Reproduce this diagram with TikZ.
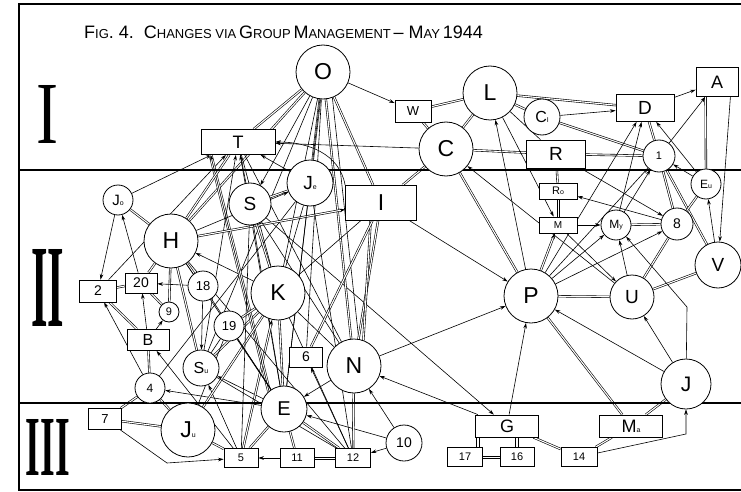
\documentclass[tikz,border=0pt]{standalone}
\usepackage{fontspec}
\setmainfont{Liberation Sans}
\newfontfamily\serifnum{Liberation Serif}
\usetikzlibrary{arrows.meta,backgrounds,calc}
\newcommand\fs[1]{\fontsize{#1}{#1}\selectfont}
\newcommand\sub[1]{{\fs{7}#1}}
\newcommand\tbig[1]{{\fs{18}#1}}
\newcommand\tsm[1]{{\fs{13}#1}}
\begin{document}
\begin{tikzpicture}[x=1pt,y=-1pt,
  cn/.style={circle,draw,line width=0.8pt,fill=white,inner sep=0pt},
  bn/.style={rectangle,draw,line width=0.8pt,fill=white,inner sep=0pt},
  dl/.style={double,double distance=1.1pt,line width=0.6pt},
  tl/.style={double,double distance=2.6pt,line width=0.55pt},
  sl/.style={line width=0.6pt},
  ar/.style={line width=0.6pt,-{Stealth[length=5.5pt,width=3.6pt]}},
  ard/.style={double,double distance=1.1pt,line width=0.6pt,-{Stealth[length=5.5pt,width=3.6pt]}},
  band/.style={line width=1.8pt}]
\useasboundingbox (0,0) rectangle (741,492);
% frame and bands
\draw[band] (741,4) -- (19,4) -- (19,490) -- (741,490);
\draw[band] (19,170) -- (741,170);
\draw[band] (19,403) -- (741,403);
% title
\node[anchor=west,inner sep=0pt] (title) at (84,32) {\tbig{F}\tsm{IG}\tbig{. 4.\ \ C}\tsm{HANGES VIA} \tbig{G}\tsm{ROUP} \tbig{M}\tsm{ANAGEMENT} \tbig{– M}\tsm{AY} \tbig{1944}};
% roman numerals
\node[inner sep=0pt] (r1) at (48,114) {\resizebox{22pt}{58pt}{\serifnum I}};
\node[inner sep=0pt] (r2) at (48,288) {\resizebox{33pt}{77pt}{\serifnum\bfseries II}};
\node[inner sep=0pt] (r3) at (48,447) {\resizebox{44pt}{56pt}{\serifnum\bfseries III}};
% ---- nodes ----
\node[cn,minimum size=54pt,font=\fs{23}] (O) at (323,72) {O};
\node[cn,minimum size=54pt,font=\fs{23}] (L) at (490,93) {L};
\node[cn,minimum size=54pt,font=\fs{23}] (C) at (446,149) {C};
\node[cn,minimum size=36pt,font=\fs{16}] (Ci) at (542,117) {C\sub{I}};
\node[bn,minimum width=36pt,minimum height=22pt,font=\fs{13}] (W) at (413,111) {W};
\node[bn,minimum width=74pt,minimum height=25pt,font=\fs{18}] (T) at (238,142) {T};
\node[bn,minimum width=59pt,minimum height=28pt,font=\fs{19}] (R) at (556,154) {R};
\node[bn,minimum width=58pt,minimum height=27pt,font=\fs{19}] (D) at (645,108) {D};
\node[bn,minimum width=42pt,minimum height=29pt,font=\fs{18}] (A) at (717,82) {A};
\node[cn,minimum size=32pt,font=\fs{11}] (n1) at (659,156) {1};
\node[cn,minimum size=30pt,font=\fs{15}] (Jo) at (118,200) {J\sub{o}};
\node[cn,minimum size=54pt,font=\fs{23}] (H) at (171,241) {H};
\node[cn,minimum size=42pt,font=\fs{19}] (S) at (250,204) {S};
\node[cn,minimum size=46pt,font=\fs{19}] (Je) at (310,183) {J\sub{e}};
\node[bn,minimum width=71pt,minimum height=35pt,font=\fs{23}] (I) at (381,203) {I};
\node[bn,minimum width=37pt,minimum height=22pt,font=\fs{14}] (n2) at (98,291) {2};
\node[bn,minimum width=32pt,minimum height=20pt,font=\fs{14}] (n20) at (141,283) {20};
\node[cn,minimum size=30pt,font=\fs{13}] (n18) at (203,286) {18};
\node[cn,minimum size=20pt,font=\fs{11}] (n9) at (169,312) {9};
\node[bn,minimum width=42pt,minimum height=21pt,font=\fs{16}] (B) at (148,340) {B};
\node[cn,minimum size=30pt,font=\fs{13}] (n19) at (229,326) {19};
\node[cn,minimum size=54pt,font=\fs{23}] (K) at (278,293) {K};
\node[cn,minimum size=36pt,font=\fs{16}] (Su) at (201,368) {S\sub{u}};
\node[bn,minimum width=33pt,minimum height=20pt,font=\fs{14}] (n6) at (306,357) {6};
\node[cn,minimum size=54pt,font=\fs{23}] (N) at (354,366) {N};
\node[cn,minimum size=30pt,font=\fs{12}] (n4) at (150,388) {4};
\node[cn,minimum size=54pt,font=\fs{23}] (P) at (531,296) {P};
\node[cn,minimum size=44pt,font=\fs{19}] (U) at (632,297) {U};
\node[bn,minimum width=38pt,minimum height=16pt,font=\fs{11}] (Ro) at (558,191) {R\sub{o}};
\node[bn,minimum width=38pt,minimum height=16pt,font=\fs{10}] (M) at (558,225) {M};
\node[cn,minimum size=30pt,font=\fs{12}] (My) at (616,225) {M\sub{y}};
\node[cn,minimum size=32pt,font=\fs{14}] (n8) at (677,224) {8};
\node[cn,minimum size=30pt,font=\fs{12}] (Eu) at (706,184) {E\sub{u}};
\node[cn,minimum size=46pt,font=\fs{19}] (V) at (718,265) {V};
\node[bn,minimum width=33pt,minimum height=21pt,font=\fs{13}] (n7) at (105,419) {7};
\node[cn,minimum size=54pt,font=\fs{23}] (Ju) at (188,430) {J\sub{u}};
\node[cn,minimum size=46pt,font=\fs{20}] (E) at (284,409) {E};
\node[bn,minimum width=34pt,minimum height=19pt,font=\fs{11}] (n5) at (241,458) {5};
\node[bn,minimum width=34pt,minimum height=19pt,font=\fs{11}] (n11) at (297,458) {11};
\node[bn,minimum width=35pt,minimum height=19pt,font=\fs{11}] (n12) at (353,458) {12};
\node[cn,minimum size=36pt,font=\fs{14}] (n10) at (404,443) {10};
\node[bn,minimum width=63pt,minimum height=22pt,font=\fs{18}] (G) at (507,426) {G};
\node[bn,minimum width=35pt,minimum height=19pt,font=\fs{11}] (n17) at (465,457) {17};
\node[bn,minimum width=34pt,minimum height=19pt,font=\fs{11}] (n16) at (517,457) {16};
\node[bn,minimum width=36pt,minimum height=19pt,font=\fs{11}] (n14) at (579,457) {14};
\node[bn,minimum width=63pt,minimum height=22pt,font=\fs{18}] (Ma) at (631,426) {M\sub{a}};
\node[cn,minimum size=50pt,font=\fs{21}] (J) at (686,384) {J};
% bend points
\coordinate (b75) at (167,463);
\coordinate (b14) at (686,434);
\coordinate (bJ) at (687,307);
% short axis-aligned double links drawn as two parallel lines
\draw[sl] ($(n17.east)+(0,-1.2)$) -- ($(n16.west)+(0,-1.2)$);
\draw[sl] ($(n17.east)+(0,1.2)$) -- ($(n16.west)+(0,1.2)$);
\draw[sl] ($(n11.east)+(0,-1.2)$) -- ($(n12.west)+(0,-1.2)$);
\draw[sl] ($(n11.east)+(0,1.2)$) -- ($(n12.west)+(0,1.2)$);
\draw[sl,fill=white] ($(G.south west)+(1.6,0)$) rectangle ($(n17.north east)+(-3.6,0)$);
\draw[sl,fill=white] ($(n16.north)+(-1.3,0)$) rectangle ($(G.south -| n16.north)+(1.3,0)$);
\draw[sl] ($(Ro.south)+(-1.2,0)$) -- ($(M.north)+(-1.2,0)$);
\draw[sl] ($(Ro.south)+(1.2,0)$) -- ($(M.north)+(1.2,0)$);
% ---- edges ----
\begin{scope}[on background layer]
% top right group
\draw[ar] (O) -- (W);
\draw[dl] (W) -- (L);
\draw[dl] (W) -- (C);
\draw[dl] (L) -- (C);
\draw[dl] (L) -- (Ci);
\draw[dl] (L) -- (D);
\draw[sl] (L) -- (R);
\draw[ar] (Ci) -- (D);
\draw[dl] (Ci) -- (n1);
\draw[dl] (C) -- (R);
\draw[dl] (C) -- (I);
\draw[dl] (R) -- (n1);
\draw[dl] (D) -- (n1);
\draw[ar] (D) -- (A);
\draw[ar] (n1) -- (A);
\draw[dl] ($(A.south west)+(10,0)$) -- (Eu);
\draw[ar] ($(A.south east)+(-8,0)$) -- (V);
\draw[ar] (Eu) -- (n1);
\draw[ar] (Eu) -- (D);
\draw[ar] (V) -- (Eu);
\draw[dl] (n1) -- (n8);
\draw[dl] (n1) -- (V);
\draw[dl] (n8) -- (Eu);
\draw[ar] (R) -- (n8);
\draw[ar] (n8) -- (Ro);
\draw[dl] (R) -- (Ro);
\draw[ar] (M) -- (My);
\draw[dl] (My) -- (n8);
\draw[ar] (My) -- (n1);
\draw[ar] (My) -- (D);
\draw[ar] (P) -- (My);
\draw[ar] (P) -- (n8);
\draw[ar] (P) -- (n1);
\draw[ar] (P) -- (D);
\draw[ard] (P) -- (M);
\draw[dl] (P) -- (U);
\draw[ar] (U) -- (My);
\draw[dl] (U) -- (n8);
\draw[dl] (U) -- (V);
\draw[ar] (U) -- (C);
\draw[ar] (M) -- (U);
\draw[ar] (L) -- (M);
\draw[ar] (P) -- (L);
\draw[dl] (C) -- (P);
\draw[ar] (I) -- (P);
\draw[ar] (N) -- (P);
\draw[ar] (J) -- (P);
\draw[ar] (J) -- (U);
\draw[ar] (J) -- (bJ) -- (My);
\draw[dl] (Ma) -- (P);
\draw[dl] (Ma) -- (J);
\draw[dl] (n14) -- (Ma);
\draw[ar] (n14) -- (b14) -- (J);
\draw[dl] (G) -- (n14);
\draw[ar] (G) -- (P);
\draw[ar] (G) -- (N);
\draw[ar] (S) -- (G);
\draw[ar] (n10) -- (N);
\draw[ar] (n10) -- (n12);
\draw[ar] (n10) -- (E);
% left cluster
\draw[dl] (Jo) -- (H);
\draw[ar] (Jo) -- (n2);
\draw[ar] (n20) -- (Jo);
\draw[ar] (Jo) -- (T);
\draw[ar] (n2) -- (T);
\draw[dl] (n2) -- (n20);
\draw[dl] (n2) -- (B);
\draw[ar] (n4) -- (n2);
\draw[ar] (B) -- (n20);
\draw[ar] (B) -- (n9);
\draw[dl] (n9) -- (n20);
\draw[dl] (H) -- (n9);
\draw[ar] (n18) -- (n20);
\draw[dl] (n18) -- (H);
\draw[ar] (n18) -- (Su);
\draw[dl] (H) -- (Su);
\draw[dl] (n20) -- (H);
\draw[dl] (B) -- (n4);
\draw[dl] (n4) -- (n7);
\draw[dl] (n4) -- (Ju);
\draw[ar] (E) -- (n4);
\draw[ar] (n7) -- (b75) -- (n5);
\draw[dl] (n7) -- (Ju);
\draw[dl] (Ju) -- (n5);
\draw[ar] (n11) -- (n5);
\draw[dl] (E) -- (n5);
\draw[dl] (E) -- (n11);
\draw[dl] (E) -- (n12);
\draw[ar] (n12) -- (n6);
\draw[dl] (n12) -- (N);
\draw[ar] (N) -- (E);
\draw[ar] (n5) -- (B);
\draw[ar] (n5) -- (Su);
\draw[ar] (E) -- (Su);
\draw[ar] (K) -- (H);
\draw[sl] (n4) -- (Je);
\draw[sl] (n19) -- (Su);
\draw[dl] (Su) -- (K);
% center
\draw[dl] (O) -- (T);
\draw[dl] (O) -- (H);
\draw[ar] (O) -- (S);
\draw[dl] (O) -- (Je);
\draw[sl] (O) -- (K);
\draw[dl] (O) -- (N);
\draw[sl] (O.-70) -- (N.80);
\draw[dl] (O) -- (I);
\draw[sl] (O) -- (E);
\draw[sl] (O) -- (n6);
\draw[sl] (O) -- (Su);
\draw[tl] (E.130) -- ($(T.south west)+(10,0)$);
\draw[ar] (E.130) -- ($(T.south west)+(10,0)$);
\draw[ar] (E) -- (T);
\draw[ar] (Su) -- (T);
\draw[dl] (H) -- (T);
\draw[sl] (T) -- (S);
\draw[sl] (T) -- (K);
\draw[sl] (T) -- (N);
\draw[ar] (Je) -- (T);
\draw[ar] (C) -- (T);
\draw[ar] (I.north west) to[out=100,in=0] (T.east);
\draw[dl] (S) -- (Je);
\draw[ard] (H) -- (I);
\draw[ar] (H) -- (Je);
\draw[dl] (S) -- (K);
\draw[sl] (S) -- (N);
\draw[sl] (S) -- (E);
\draw[sl] (Je) -- (K);
\draw[sl] (K) -- (I);
\draw[sl] (Je) -- (E);
\draw[dl] (I) -- (N);
\draw[dl] (I.-120) -- (N.70);
\draw[dl] (I) -- (n6);
\draw[dl] (K) -- (n19);
\draw[dl] (K) -- (E);
\draw[dl] (Ju) -- (K);
\draw[ard] (n5) -- (K);
\draw[sl] (K) -- (N);
\draw[sl] (K) -- (n12);
\draw[sl] (H) -- (E);
\draw[sl] (H) -- (n12);
\draw[sl] (n19) -- (Ju);
\draw[sl] (n19) -- (E);
\draw[sl] (S) -- (n5);
\draw[sl] (Je) -- (n12);
\draw[sl] (Su) -- (n12);
\draw[sl] (n18) -- (E);
\end{scope}
\end{tikzpicture}
\end{document}
